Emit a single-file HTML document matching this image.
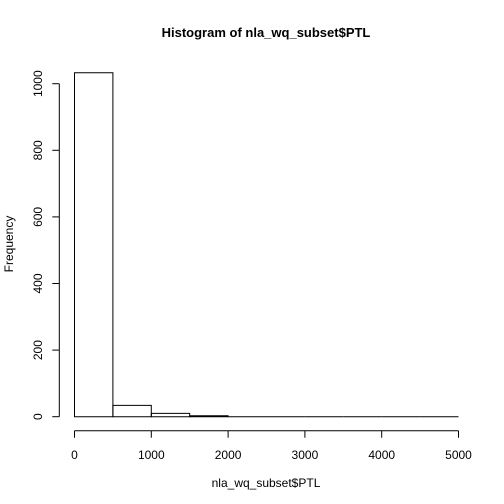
<!DOCTYPE html>
<html><head><meta charset="utf-8"><style>body{margin:0;background:#fff}svg{display:block;font-family:"Liberation Sans",Arial,sans-serif}</style></head>
<body>
<svg id="c" width="504" height="504" xmlns="http://www.w3.org/2000/svg">
<rect width="504" height="504" fill="#fff"/>
<text x="266" y="37" text-anchor="middle" font-size="13" font-weight="bold">Histogram of nla_wq_subset$PTL</text>
<text x="266" y="487" text-anchor="middle" font-size="12">nla_wq_subset$PTL</text>
<text x="13" y="244" text-anchor="middle" font-size="12" transform="rotate(-90 13 244)">Frequency</text>
<g id="bars"></g><g id="ax"></g>
</svg>
<script>
const binStarts=[0,500,1000,1500,2000,2500,3000,3500,4000,4500];
const counts=[1033,34,10,3,0,0,0,0,0,0];
const xTicks=[0,1000,2000,3000,4000,5000];
const yTicks=[0,200,400,600,800,1000];
const binWidth=500;
const sx=v=>74.5+v*0.0768;
const sy=v=>416.7-v*0.333;
const NS="http://www.w3.org/2000/svg";
const bars=document.getElementById('bars'),ax=document.getElementById('ax');
function mk(t,a,p){const e=document.createElementNS(NS,t);for(const k in a)e.setAttribute(k,a[k]);p.appendChild(e);return e;}
binStarts.forEach((b,i)=>{
 const x0=sx(b),x1=sx(b+binWidth),y=sy(counts[i]),y0=sy(0);
 const r=mk('path',{d:`M${x0},${y0}L${x0},${y}L${x1},${y}L${x1},${y0}Z`,fill:'none',stroke:'#000','stroke-width':1},bars);
 
 
});
let l=mk('line',{x1:sx(0),x2:sx(5000),y1:430.7,y2:430.7,stroke:'#000'},ax);


xTicks.forEach(v=>{
 mk('line',{x1:sx(v),x2:sx(v),y1:430.7,y2:437.7,stroke:'#000'},ax);
 const t=mk('text',{x:sx(v),y:459,'text-anchor':'middle','font-size':12},ax);t.textContent=v;
 
 
});
l=mk('line',{x1:59.3,x2:59.3,y1:sy(0),y2:sy(1000),stroke:'#000'},ax);


yTicks.forEach(v=>{
 mk('line',{x1:52.3,x2:59.3,y1:sy(v),y2:sy(v),stroke:'#000'},ax);
 const t=mk('text',{x:42,y:sy(v),'text-anchor':'middle','font-size':12,transform:`rotate(-90 42 ${sy(v)})`},ax);t.textContent=v;
 
 
});
</script>
</body></html>
